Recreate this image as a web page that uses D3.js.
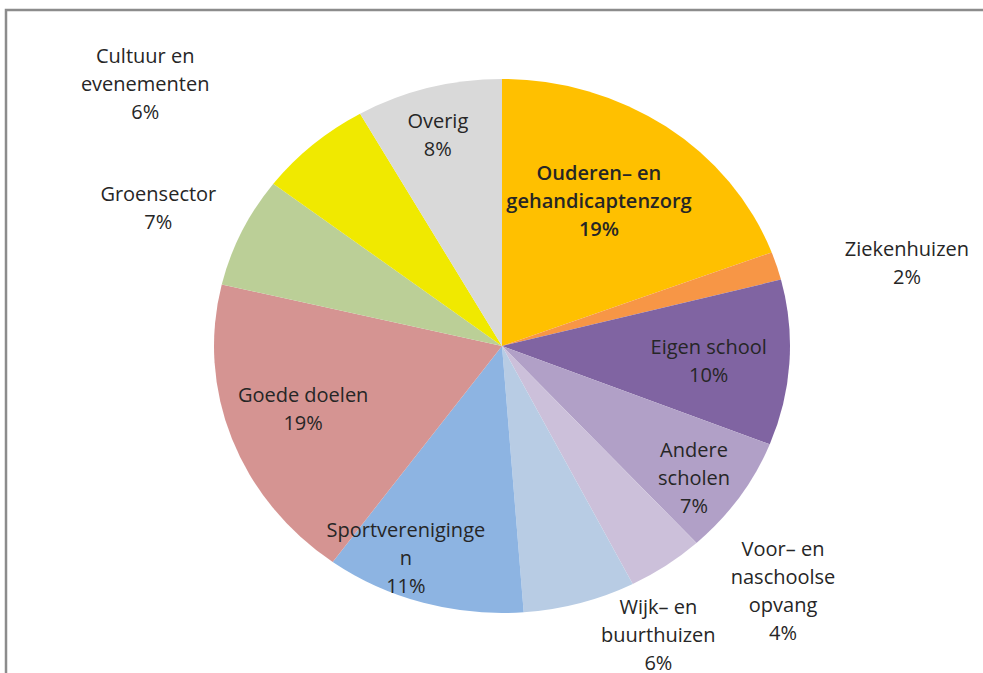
<!DOCTYPE html>
<html>
<head>
<meta charset="utf-8">
<script src="https://cdn.jsdelivr.net/npm/d3@7"></script>
<style>
  body { margin: 0; background: #fff; }
  svg text { font-family: "Open Sans", "Noto Sans", sans-serif; fill: #262626; }
</style>
</head>
<body>
<div id="chart"></div>
<script>
// Data (shares in %, clockwise from 12 o'clock)
const categories = [
    'Ouderen– en gehandicaptenzorg', 'Ziekenhuizen', 'Eigen school', 'Andere scholen',
    'Voor– en naschoolse opvang', 'Wijk– en buurthuizen', 'Sportverenigingen',
    'Goede doelen', 'Groensector', 'Cultuur en evenementen', 'Overig'
];
const shares = [19.3, 1.7, 10.0, 7.2, 4.3, 6.3, 11.2, 18.7, 6.7, 6.4, 8.2];
// Label lines as Excel wrapped them
const labelLines = [
    ['Ouderen– en', 'gehandicaptenzorg'], ['Ziekenhuizen'], ['Eigen school'], ['Andere', 'scholen'],
    ['Voor– en', 'naschoolse', 'opvang'], ['Wijk– en', 'buurthuizen'], ['Sportvereniginge', 'n'],
    ['Goede doelen'], ['Groensector'], ['Cultuur en', 'evenementen'], ['Overig']
];
const colors = ['#FFC000', '#F79646', '#8064A2', '#B1A0C7', '#CCC0DA', '#B8CCE4',
    '#8DB4E2', '#D59492', '#BBCF97', '#F0E900', '#D9D9D9'];

// label placement: radial factor and angle nudge (deg) relative to slice middle
const labelLayout = [
    [0.64, -3], [1.44, 5], [0.72, 1], [0.83, 2], [1.34, -12], [1.21, -11],
    [0.86, 7], [0.73, 1.4], [1.30, -2], [1.58, -10.6], [0.82, -1]
];

const width = 983, height = 673;
const cx = 502, cy = 346, rx = 288, ry = 267;

const svg = d3.select('#chart').append('svg')
    .attr('width', width)
    .attr('height', height);

// chart frame (runs off the right and bottom of the picture)
svg.append('path')
    .attr('d', `M6,${height + 5}V10H${width + 5}`)
    .attr('fill', 'none')
    .attr('stroke', '#8c8c8c')
    .attr('stroke-width', 2.5);

const pie = d3.pie().sort(null).value(d => d);
const arcs = pie(shares);
const total = d3.sum(shares);

const arc = d3.arc().innerRadius(0).outerRadius(ry);

const g = svg.append('g')
    .attr('transform', `translate(${cx},${cy}) scale(${rx / ry},1)`);

g.selectAll('path')
    .data(arcs)
    .join('path')
    .attr('d', arc)
    .attr('fill', (d, i) => colors[i]);

// labels
const fontSize = 20, lineH = 28;
const labels = svg.append('g');
arcs.forEach((d, i) => {
    const [f, nudge] = labelLayout[i];
    const a = (d.startAngle + d.endAngle) / 2 + nudge * Math.PI / 180;
    const x = cx + f * rx * Math.sin(a);
    const y = cy - f * ry * Math.cos(a);
    const lines = labelLines[i].concat([Math.round(d.value / total * 100) + '%']);
    const t = labels.append('text')
        .attr('text-anchor', 'middle')
        .attr('font-size', fontSize)
        .attr('font-weight', i === 0 ? 600 : 'normal');
    lines.forEach((l, k) => {
        t.append('tspan')
            .attr('x', x)
            .attr('y', y + (k - (lines.length - 1) / 2) * lineH)
            .attr('dy', '0.35em')
            .text(l);
    });
});
</script>
</body>
</html>
